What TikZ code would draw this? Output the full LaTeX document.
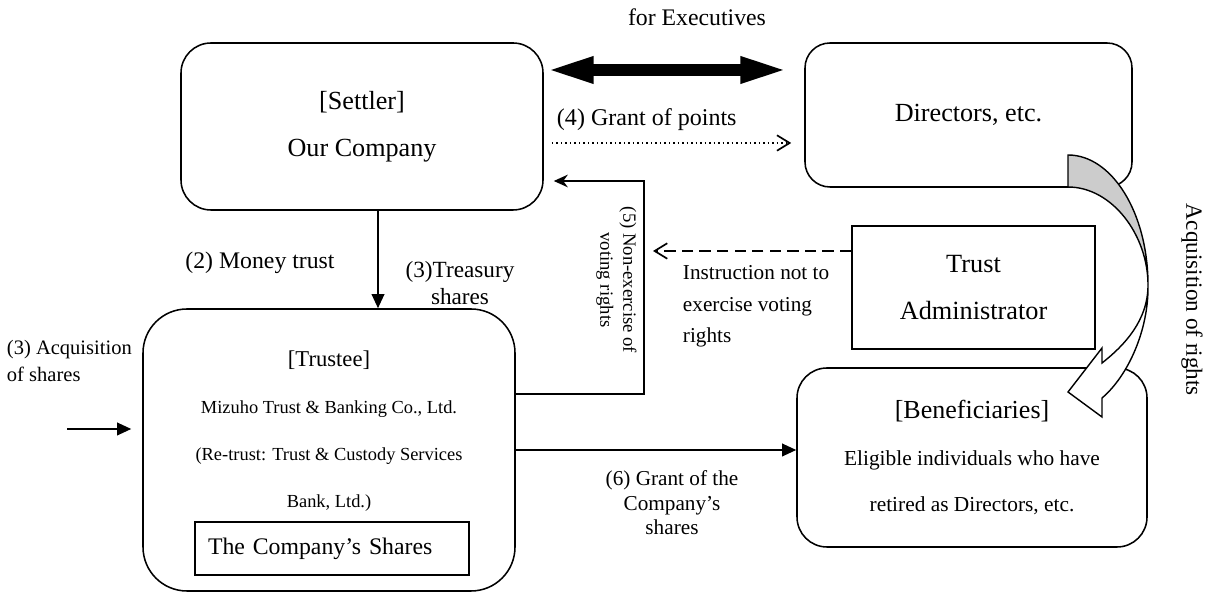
\documentclass[tikz,border=0pt]{standalone}
\usepackage{fontspec}
\setmainfont{Liberation Serif}
\usepackage{tikz}
\usetikzlibrary{arrows.meta}
\tikzset{box/.style = {draw, line width = 1.1pt, align = center, inner sep = 0}}
\tikzset{arr/.style = {-{Triangle[length = 10pt, width = 9pt]}, line width = 1.1pt}}
\tikzset{barb/.style = {-{Straight Barb[length = 9pt, width = 11pt]}, line width = 1.2pt}}
\newcommand{\fs}[2]{\fontsize{#1}{#2}\selectfont}

\begin{document}
\begin{tikzpicture}
  \useasboundingbox (0, 0) rectangle (30.175, 14.85);

  \node [box, rounded corners = 0.75cm, minimum width = 9.05cm, minimum height = 4.175cm, font = \fs{18.6}{33.4}] (settler) at (9.05, 11.6875) {[Settler]\\Our Company};
  \node [box, rounded corners = 0.625cm, minimum width = 8.175cm, minimum height = 3.6cm, font = \fs{18.6}{22}] (directors) at (24.2125, 11.975) {Directors, etc.};
  \node [box, minimum width = 6.075cm, minimum height = 3.075cm, font = \fs{18.7}{34}] (admin) at (24.3375, 7.6625) {Trust\\Administrator};
  \node [box, rounded corners = 0.75cm, minimum width = 8.75cm, minimum height = 4.475cm, font = \fs{15.2}{33.4}] (benef) at (24.3, 3.4125) {{\fs{18.5}{33.4}[Beneficiaries]}\\Eligible individuals who have\\retired as Directors, etc.};
  \node [box, rounded corners = 1.1cm, minimum width = 9.3cm, minimum height = 7.05cm] (trustee) at (8.225, 3.6) {};
  \node [align = center, font = \fs{13.1}{33.6}] (trusteetext) at (8.225, 4.075) {{\fs{16.1}{33.6}[Trustee]}\\Mizuho Trust \& Banking Co., Ltd.\\(Re-trust: Trust \& Custody Services\\Bank, Ltd.)};
  \node [box, line width = 1pt, minimum width = 6.85cm, minimum height = 1.325cm, text width = 6.2cm, align = left, font = \fs{16.9}{20}] (shares) at (8.3, 1.1375) {The Company's Shares};

  % (2) and (3)
  \draw [arr] ([xshift = 4mm]settler.south) -- ([xshift = 4mm]settler.south |- trustee.north);
  \node [font = \fs{16.9}{20}] (money) at (6.5, 8.275) {(2) Money trust};
  \node [align = center, font = \fs{16.5}{19.2}] (treasury) at (11.5, 7.7625) {(3)Treasury\\shares};

  % trust for executives
  \coordinate (exec) at (13.6, 13.1);
  \draw [line width = 8pt, {Triangle[length = 34pt, width = 17pt]}-{Triangle[length = 34pt, width = 17pt]}, shorten <= 0.05cm, shorten >= 0.4cm] (settler.east |- exec) -- (directors.west |- exec);
  \node [font = \fs{16.9}{20}] (execlabel) at (17.425, 14.425) {for Executives};

  % (4)
  \coordinate (points) at (13.6, 11.275);
  \draw [barb, dotted, shorten <= 0.2cm, shorten >= 0.325cm] (settler.east |- points) -- (directors.west |- points);
  \node [anchor = west, font = \fs{17.1}{20}] (pointslabel) at (13.8, 11.85) {(4) Grant of points};

  % (5)
  \coordinate (vturn) at (16.1, 10.325);
  \draw [-{Stealth[length = 10pt, width = 9pt]}, line width = 1.1pt] ([yshift = 14mm]trustee.east) -| (vturn) -- ([xshift = 2.5mm]settler.east |- vturn);
  \node [rotate = -90, align = center, font = \fs{13.3}{16.4}] (nonvote) at (15.4125, 7.85) {(5) Non-exercise of\\voting rights};

  \coordinate (instr) at ([yshift = 9.125mm]admin.west);
  \draw [barb, dash pattern = on 8pt off 4.5pt, shorten >= 2.25mm] (instr) -- (vturn |- instr);
  \node [anchor = west, align = left, font = \fs{15.1}{22.4}] (instrlabel) at (16.95, 7.1875) {Instruction not to\\exercise voting\\rights};

  % (6)
  \draw [arr] (trustee.east) -- (benef.west |- trustee.east);
  \node [align = center, font = \fs{15.1}{17.4}] (grantlabel) at (16.8, 2.275) {(6) Grant of the\\Company's\\shares};

  % (3) acquisition
  \coordinate (buy) at (1.675, 4.125);
  \draw [arr, shorten >= 0.275cm] (buy) -- (trustee.west |- buy);
  \node [anchor = west, align = left, font = \fs{14.6}{19.2}] (buylabel) at (0.05, 5.8375) {(3) Acquisition\\of shares};

  % acquisition of rights
  \draw [line width = 1pt, fill = gray!40] (26.7, 10.975) .. controls (27.8, 10.975) and (28.7, 9.525) .. (28.7, 7.725) .. controls (28.7, 8.975) and (27.8, 10.175) .. (26.7, 10.175) -- cycle;
  \draw [line width = 1pt, fill = white] (28.7, 7.725) .. controls (28.7, 6.85) and (28.125, 6.225) .. (27.55, 5.775) -- (27.55, 6.15) -- (26.7, 5.05) -- (27.55, 4.425) -- (27.55, 4.9) .. controls (28.2, 5.45) and (28.72, 6.6) .. (28.7, 7.725) -- cycle;
  \node [rotate = -90, font = \fs{16.5}{20}] (rights) at (29.8, 7.35) {Acquisition of rights};
\end{tikzpicture}
\end{document}
